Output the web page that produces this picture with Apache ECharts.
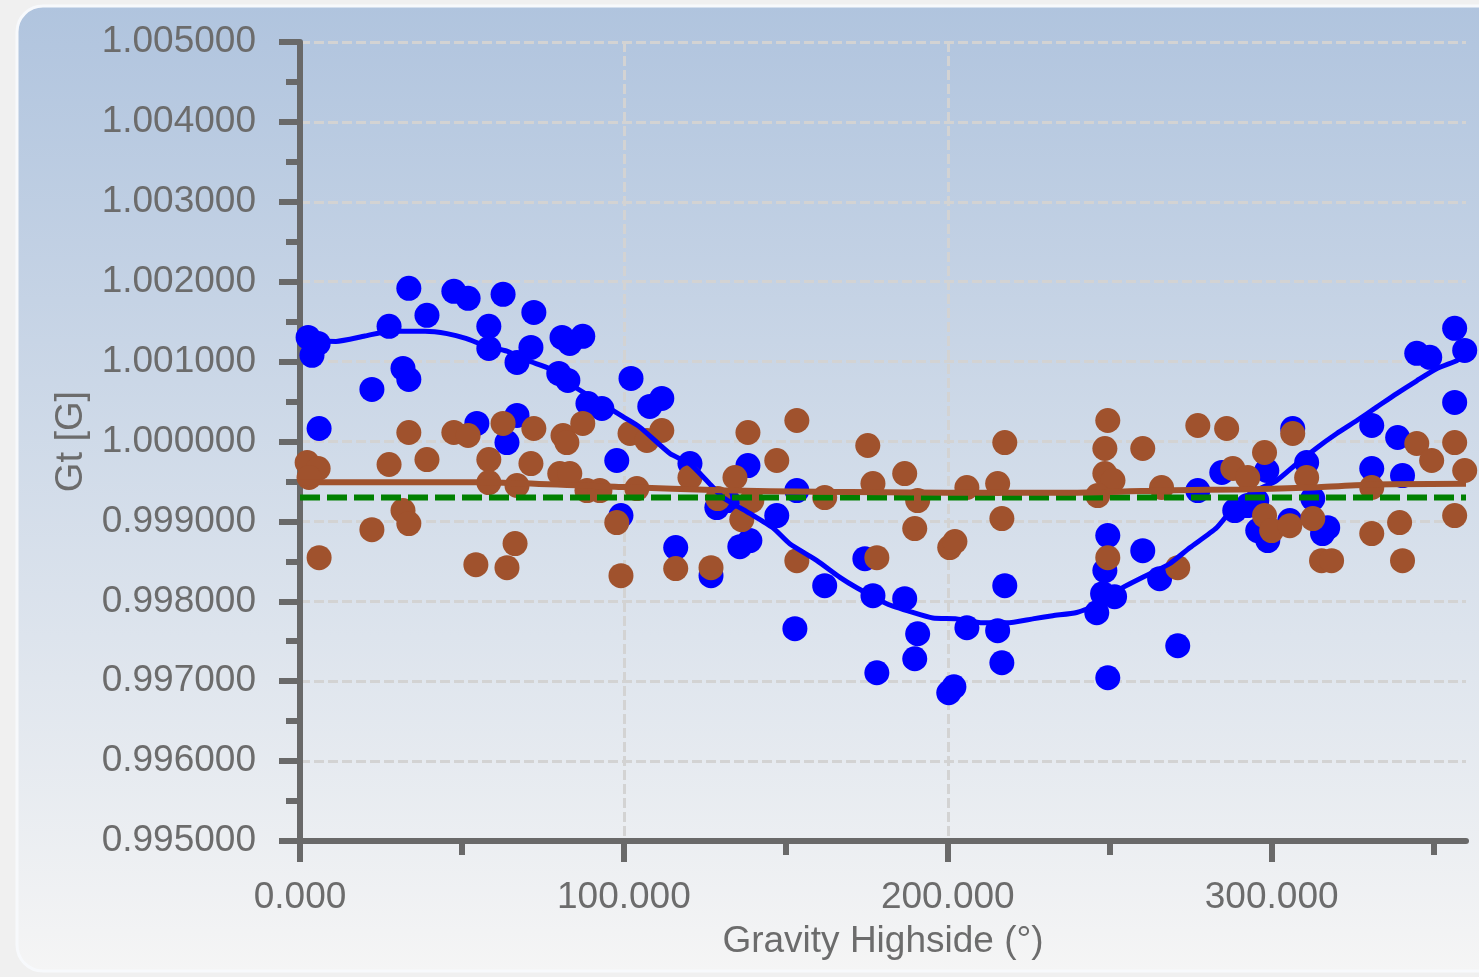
<!DOCTYPE html>
<html>
<head>
<meta charset="utf-8">
<script src="https://cdn.jsdelivr.net/npm/echarts@6/dist/echarts.min.js"></script>
<style>
  html, body { margin: 0; padding: 0; background: #f0f0f0; }
  #chart { width: 1479px; height: 977px; }
</style>
</head>
<body>
<div id="chart"></div>
<script>
// ---------- data ----------
const blueAngle = [2.5, 5.6, 3.7, 5.9, 22.2, 27.5, 33.6, 31.8, 33.6, 39.2, 47.5, 51.9, 54.6, 58.3, 58.3, 62.7, 63.9, 67.0, 67.0, 71.3, 72.2, 79.9, 82.7, 80.9, 83.3, 87.3, 88.9, 93.2, 97.8, 99.1, 102.2, 108.0, 111.7, 120.4, 138.3, 128.7, 132.1, 147.2, 135.8, 138.9, 116.0, 126.9, 153.4, 152.8, 162.0, 176.9, 174.4, 186.7, 190.7, 189.8, 178.1, 200.3, 201.9, 205.9, 215.4, 216.7, 217.6, 246.0, 249.4, 247.8, 251.5, 248.5, 249.4, 260.2, 265.4, 271.0, 277.2, 284.6, 288.6, 292.6, 295.4, 298.5, 298.8, 295.7, 306.5, 305.6, 310.8, 312.7, 317.3, 315.7, 330.9, 330.9, 338.9, 340.4, 344.8, 348.8, 356.5, 359.6, 356.5];
const blueGt = [1.001303, 1.001228, 1.001078, 1.000163, 1.000652, 1.001441, 1.001917, 1.000915, 1.000777, 1.001579, 1.001880, 1.001792, 1.000226, 1.001441, 1.001165, 1.001842, 0.999987, 1.000990, 1.000326, 1.001178, 1.001616, 1.000852, 1.000764, 1.001303, 1.001228, 1.001316, 1.000476, 1.000413, 0.999762, 0.999073, 1.000789, 1.000439, 1.000539, 0.999724, 0.999699, 0.999173, 0.999261, 0.999073, 0.998684, 0.998760, 0.998672, 0.998321, 0.999386, 0.997657, 0.998196, 0.998070, 0.998534, 0.998033, 0.997594, 0.997281, 0.997106, 0.996855, 0.996930, 0.997669, 0.997632, 0.997231, 0.998196, 0.997857, 0.997043, 0.998095, 0.998058, 0.998384, 0.998822, 0.998634, 0.998283, 0.997444, 0.999386, 0.999612, 0.999135, 0.999198, 0.999261, 0.999637, 0.998760, 0.998885, 1.000163, 0.999010, 0.999737, 0.999286, 0.998922, 0.998847, 1.000200, 0.999662, 1.000050, 0.999574, 1.001103, 1.001053, 1.001416, 1.001140, 1.000489];

const brownAngle = [2.2, 5.6, 2.8, 5.9, 22.2, 27.5, 31.8, 33.6, 33.6, 39.2, 47.5, 51.9, 54.3, 58.3, 58.3, 62.7, 63.9, 66.4, 67.0, 71.3, 72.2, 81.2, 82.4, 80.2, 83.3, 87.3, 88.6, 92.6, 97.8, 99.1, 101.9, 104.0, 107.1, 111.7, 120.4, 116.0, 126.9, 129.0, 134.3, 138.3, 139.5, 136.4, 153.4, 147.2, 153.4, 162.0, 175.3, 176.9, 178.1, 186.7, 190.7, 189.8, 200.6, 202.2, 205.9, 215.4, 217.6, 216.7, 249.4, 248.5, 248.5, 251.0, 246.3, 249.4, 260.2, 266.0, 271.0, 277.2, 286.1, 288.0, 292.6, 297.8, 297.8, 300.0, 305.6, 306.5, 310.8, 312.7, 315.4, 318.5, 330.9, 330.9, 339.5, 340.4, 344.8, 349.4, 356.5, 359.6, 356.5];
const brownGt = [0.999737, 0.999662, 0.999549, 0.998546, 0.998897, 0.999712, 0.999135, 0.998973, 1.000113, 0.999774, 1.000113, 1.000075, 0.998459, 0.999774, 0.999486, 1.000226, 0.998421, 0.998722, 0.999449, 0.999724, 1.000163, 1.000075, 0.999987, 0.999599, 0.999599, 1.000226, 0.999386, 0.999386, 0.998985, 0.998321, 1.000100, 0.999411, 1.000013, 1.000138, 0.999549, 0.998409, 0.998421, 0.999286, 0.999549, 1.000113, 0.999261, 0.999023, 1.000263, 0.999762, 0.998509, 0.999298, 0.999950, 0.999474, 0.998546, 0.999599, 0.999261, 0.998910, 0.998672, 0.998747, 0.999424, 0.999474, 0.999987, 0.999035, 1.000263, 0.999912, 0.999599, 0.999511, 0.999323, 0.998546, 0.999912, 0.999424, 0.998421, 1.000200, 1.000163, 0.999662, 0.999549, 0.999862, 0.999073, 0.998885, 0.998947, 1.000100, 0.999549, 0.999035, 0.998509, 0.998509, 0.999424, 0.998847, 0.998985, 0.998509, 0.999975, 0.999762, 0.999987, 0.999637, 0.999073];

const blueFitAngle = [0, 11.1, 20, 27.8, 38.6, 45.4, 51.2, 57.7, 63.9, 70.4, 77.2, 81.8, 91.7, 99.7, 104.9, 114.2, 120.4, 125.6, 130.6, 138.9, 146, 151.2, 159.6, 166.7, 171.9, 181.2, 189.2, 195.4, 202.8, 210.8, 218.2, 226.2, 232.4, 239.8, 246.9, 254, 260.2, 268.5, 274.7, 283, 289.2, 295.4, 301.5, 307.7, 313.9, 320.1, 326.2, 332.4, 338.6, 344.8, 350.9, 357.1, 359.6];
const blueFitGt = [1.001266, 1.001253, 1.00132, 1.00138, 1.00138, 1.00135, 1.00129, 1.00119, 1.00113, 1.00101, 1.00091, 1.00076, 1.00051, 1.00031, 1.00018, 0.99985, 0.99972, 0.99951, 0.99930, 0.99910, 0.99892, 0.99872, 0.99851, 0.99830, 0.99817, 0.99797, 0.99786, 0.99779, 0.99778, 0.99773, 0.99773, 0.99778, 0.99782, 0.99786, 0.99797, 0.99817, 0.99830, 0.99847, 0.99867, 0.99892, 0.99922, 0.99939, 0.99951, 0.99972, 0.99992, 1.00010, 1.00026, 1.00043, 1.00060, 1.00076, 1.00091, 1.00101, 1.00107];

const brownFitAngle = [0, 55, 100, 130, 160, 200, 240, 270, 290, 310, 330, 360];
const brownFitGt = [0.99949, 0.99949, 0.99943, 0.99939, 0.99937, 0.99936, 0.99936, 0.99939, 0.99940, 0.99942, 0.99946, 0.99947];

const refAngle = [0, 360];
const refGt = [0.99930, 0.99930];

const xMajorTicks = [0, 100, 200, 300];
const xMinorTicks = [50, 150, 250, 350];

const xAxisTitle = 'Gravity Highside (°)';
const yAxisTitle = 'Gt [G]';

// ---------- build ----------
const zip = (a, b) => a.map((v, i) => [v, b[i]]);

const FONT = 'Liberation Sans';
const TXT = '#6c6c6c';
const AX = '#696969';

const chart = echarts.init(document.getElementById('chart'), null, { renderer: 'canvas' });

chart.setOption({
  animation: false,
  graphic: [{
    type: 'rect',
    z: -100,
    silent: true,
    shape: { x: 17, y: 6, width: 1530, height: 965, r: 26 },
    style: {
      fill: new echarts.graphic.LinearGradient(0, 0, 0, 1, [
        { offset: 0, color: '#b0c4de' },
        { offset: 1, color: '#f5f5f5' }
      ]),
      stroke: '#f7f9fc',
      lineWidth: 3
    }
  }],
  grid: { left: 300, right: 13, top: 42, bottom: 136, containLabel: false },
  xAxis: [{
    type: 'value',
    min: 0, max: 360, interval: 100,
    name: xAxisTitle,
    nameLocation: 'middle',
    nameGap: 82,
    nameTextStyle: { fontFamily: FONT, fontSize: 37, color: TXT },
    axisLine: { show: true, onZero: false, lineStyle: { color: AX, width: 6 } },
    axisTick: { show: true, length: 21, customValues: xMajorTicks, lineStyle: { color: AX, width: 6 } },
    axisLabel: {
      show: true, margin: 38, customValues: xMajorTicks,
      fontFamily: FONT, fontSize: 37, color: TXT,
      formatter: v => v.toFixed(3)
    },
    splitLine: { show: true, showMinLine: false, showMaxLine: false,
      lineStyle: { color: '#d3d3d3', width: 3, type: [10, 4] } }
  }, {
    type: 'value',
    min: 0, max: 360, interval: 50,
    position: 'bottom',
    axisLine: { show: false, onZero: false },
    axisTick: { show: true, length: 14, customValues: xMinorTicks, lineStyle: { color: AX, width: 6 } },
    axisLabel: { show: false },
    splitLine: { show: false }
  }],
  yAxis: {
    type: 'value',
    min: 0.995, max: 1.005, interval: 0.001,
    name: yAxisTitle,
    nameLocation: 'middle',
    nameGap: 207,
    nameTextStyle: { fontFamily: FONT, fontSize: 38, color: TXT },
    axisLine: { show: true, onZero: false, lineStyle: { color: AX, width: 6 } },
    axisTick: { show: true, length: 21, lineStyle: { color: AX, width: 6 } },
    minorTick: { show: true, splitNumber: 2, length: 14, lineStyle: { color: AX, width: 6 } },
    axisLabel: {
      margin: 44, fontFamily: FONT, fontSize: 37, color: TXT,
      formatter: v => v.toFixed(6)
    },
    splitLine: { show: true, showMinLine: false,
      lineStyle: { color: '#d3d3d3', width: 3, type: [10, 4] } }
  },
  series: [
    {
      type: 'scatter', name: 'blue pts', xAxisIndex: 0,
      data: zip(blueAngle, blueGt),
      symbol: 'circle', symbolSize: 25, clip: false,
      itemStyle: { color: '#0000ff', opacity: 1 }
    },
    {
      type: 'line', name: 'blue fit', xAxisIndex: 0,
      data: zip(blueFitAngle, blueFitGt),
      showSymbol: false, smooth: 0.2,
      lineStyle: { color: '#0000ff', width: 5 }
    },
    {
      type: 'line', name: 'ref', xAxisIndex: 0,
      data: zip(refAngle, refGt),
      showSymbol: false,
      lineStyle: { color: '#008000', width: 6, type: [20, 7] }
    },
    {
      type: 'scatter', name: 'brown pts', xAxisIndex: 0,
      data: zip(brownAngle, brownGt),
      symbol: 'circle', symbolSize: 25, clip: false,
      itemStyle: { color: '#a0522d', opacity: 1 }
    },
    {
      type: 'line', name: 'brown fit', xAxisIndex: 0,
      data: zip(brownFitAngle, brownFitGt),
      showSymbol: false, smooth: 0.2,
      lineStyle: { color: '#a0522d', width: 6 }
    }
  ]
});
</script>
</body>
</html>
